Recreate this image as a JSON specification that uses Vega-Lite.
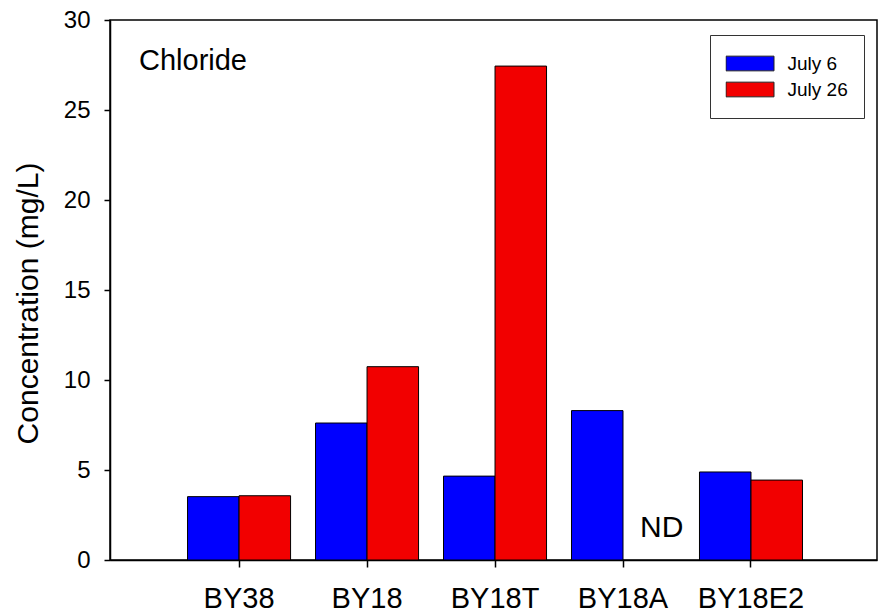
{
  "$schema": "https://vega.github.io/schema/vega-lite/v6.json",
  "width": 767,
  "height": 540,
  "autosize": {"type": "none"},
  "padding": {"left": 110, "top": 20, "right": 2, "bottom": 53},
  "background": "white",
  "title": {
    "text": "Chloride",
    "anchor": "start",
    "frame": "group",
    "orient": "top",
    "fontSize": 29,
    "fontWeight": "normal",
    "font": "Liberation Sans",
    "color": "black",
    "baseline": "alphabetic",
    "dx": 29,
    "offset": -91
  },
  "config": {
    "font": "Liberation Sans",
    "view": {"stroke": "black", "strokeWidth": 1.5},
    "axis": {"grid": false}
  },
  "datasets": {
    "bars": [
      {"site": "BY38", "date": "July 6", "value": 3.52},
      {"site": "BY38", "date": "July 26", "value": 3.57},
      {"site": "BY18", "date": "July 6", "value": 7.61},
      {"site": "BY18", "date": "July 26", "value": 10.74},
      {"site": "BY18T", "date": "July 6", "value": 4.66},
      {"site": "BY18T", "date": "July 26", "value": 27.44},
      {"site": "BY18A", "date": "July 6", "value": 8.3},
      {"site": "BY18E2", "date": "July 6", "value": 4.89},
      {"site": "BY18E2", "date": "July 26", "value": 4.44}
    ],
    "notes": [
      {"site": "BY18A", "date": "July 26", "label": "ND"}
    ]
  },
  "layer": [
    {
      "data": {"name": "bars"},
      "mark": {"type": "bar", "stroke": "black", "strokeWidth": 1},
      "encoding": {
        "x": {
          "field": "site",
          "type": "nominal",
          "sort": ["BY38", "BY18", "BY18T", "BY18A", "BY18E2"],
          "scale": {"domain": ["BY38", "BY18", "BY18T", "BY18A", "BY18E2"], "paddingInner": 0.195, "paddingOuter": 0.594, "align": 0.51},
          "axis": {
            "title": null,
            "labelAngle": 0,
            "labelFontSize": 29,
            "labelColor": "black",
            "labelPadding": 17,
            "tickSize": 7,
            "tickColor": "black",
            "tickWidth": 1.5,
            "domainColor": "black",
            "domainWidth": 1.5
          }
        },
        "xOffset": {
          "field": "date",
          "type": "nominal",
          "scale": {"domain": ["July 6", "July 26"], "paddingInner": 0, "paddingOuter": 0}
        },
        "y": {
          "field": "value",
          "type": "quantitative",
          "scale": {"domain": [0, 30], "nice": false},
          "axis": {
            "title": "Concentration (mg/L)",
            "titleFontSize": 30,
            "titleFontWeight": "normal",
            "titleColor": "black",
            "titlePadding": 20,
            "titleY": 283,
            "values": [0, 5, 10, 15, 20, 25, 30],
            "labelFontSize": 24,
            "labelColor": "black",
            "labelPadding": 14,
            "tickSize": 6,
            "tickColor": "black",
            "tickWidth": 1.5,
            "domainColor": "black",
            "domainWidth": 1.5
          }
        },
        "color": {
          "field": "date",
          "type": "nominal",
          "scale": {"domain": ["July 6", "July 26"], "range": ["#0000ff", "#f20000"]},
          "legend": {
            "title": null,
            "orient": "none",
            "legendX": 600,
            "legendY": 15,
            "fillColor": "white",
            "strokeColor": "#333333",
            "padding": 15.5,
            "symbolType": "M-1,-0.306H1V0.306H-1Z",
            "symbolSize": 2304,
            "symbolStrokeColor": "#222222",
            "symbolStrokeWidth": 1,
            "symbolOpacity": 1,
            "clipHeight": 26,
            "rowPadding": 0,
            "labelFontSize": 19,
            "labelColor": "black",
            "labelOffset": 13
          }
        }
      }
    },
    {
      "data": {"name": "notes"},
      "mark": {"type": "text", "fontSize": 30, "color": "black", "baseline": "alphabetic", "align": "center", "dx": 13},
      "encoding": {
        "x": {"field": "site", "type": "nominal"},
        "xOffset": {"field": "date", "type": "nominal"},
        "y": {"datum": 1.3, "type": "quantitative"},
        "text": {"field": "label"}
      }
    }
  ]
}
